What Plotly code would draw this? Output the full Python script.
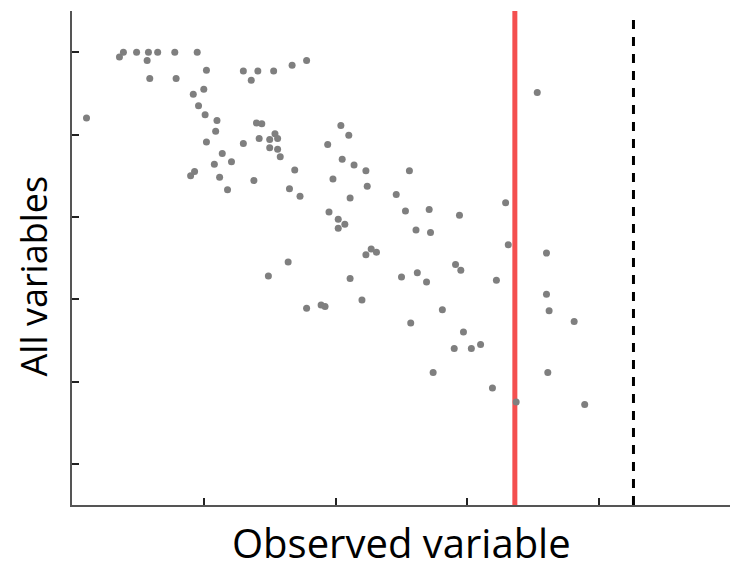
import plotly.graph_objects as go

# Observed variable (x) and All variables (y) values for each point
obs_x = [0.11, 0.39, 0.36, 0.49, 0.58, 0.57, 0.65, 0.78, 0.95, 0.59,
         0.79, 1.02, 1.30, 1.36, 1.41, 1.53, 1.67, 1.78, 1.00, 0.92,
         0.96, 1.01, 1.10, 1.09, 1.02, 1.14, 1.08, 1.21, 0.90, 0.93,
         1.12, 1.18, 1.38, 1.30, 1.40, 1.44, 1.42, 1.54, 1.50, 1.56,
         1.50, 1.56, 1.58, 1.69, 1.65, 1.73, 2.04, 2.10, 1.94, 2.05,
         2.14, 2.23, 2.56, 1.98, 2.24, 2.11, 2.46, 1.95, 2.02, 2.02,
         2.07, 2.53, 2.71, 2.94, 2.61, 2.72, 2.27, 2.23, 2.31, 1.64,
         1.49, 2.11, 2.20, 1.78, 1.89, 1.92, 2.50, 2.62, 2.69, 2.91,
         2.95, 2.81, 3.31, 3.60, 3.22, 3.60, 3.62, 3.81, 2.57, 2.97,
         2.90, 3.03, 3.10, 2.74, 3.61, 3.19, 3.37, 3.89, 3.53, 3.29]

all_y = [4.20, 5.00, 4.94, 5.00, 5.00, 4.90, 5.00, 5.00, 5.00, 4.68,
         4.68, 4.78, 4.77, 4.66, 4.77, 4.77, 4.84, 4.90, 4.55, 4.49,
         4.35, 4.24, 4.17, 4.04, 3.91, 3.77, 3.64, 3.67, 3.50, 3.55,
         3.48, 3.33, 3.44, 3.89, 4.14, 4.13, 3.95, 4.01, 3.94, 3.95,
         3.84, 3.82, 3.73, 3.57, 3.34, 3.25, 4.11, 3.99, 3.88, 3.70,
         3.63, 3.56, 3.56, 3.46, 3.37, 3.23, 3.27, 3.06, 2.97, 2.86,
         2.91, 3.07, 3.09, 3.02, 2.84, 2.81, 2.61, 2.54, 2.57, 2.45,
         2.28, 2.25, 1.99, 1.89, 1.93, 1.91, 2.27, 2.32, 2.21, 2.42,
         2.35, 1.87, 2.66, 2.56, 2.23, 2.06, 1.86, 1.73, 1.71, 1.60,
         1.40, 1.40, 1.45, 1.11, 1.11, 0.92, 0.75, 0.72, 4.51, 3.17]

red_line_x = 3.36
dashed_line_x = 4.26

x_ticks = [0, 1, 2, 3, 4, 5]
y_ticks = [0, 1, 2, 3, 4, 5]
x_range = [0, 5]
y_range = [-0.5, 5.5]

x_title = "Observed variable"
y_title = "All variables"

fig = go.Figure()
fig.add_trace(go.Scatter(
    x=obs_x, y=all_y, mode="markers",
    marker=dict(color="#7f7f7f", size=7, line=dict(width=0)),
    showlegend=False, hoverinfo="skip",
))

fig.add_shape(type="line", xref="x", yref="paper", x0=red_line_x, x1=red_line_x,
              y0=0, y1=1, line=dict(color="#f44f4f", width=5), layer="below")
fig.add_shape(type="line", xref="x", yref="paper", x0=dashed_line_x, x1=dashed_line_x,
              y0=0, y1=0.995, line=dict(color="black", width=3, dash="9px,8px"), layer="below")

axis_common = dict(
    showgrid=False, zeroline=False, showticklabels=False,
    showline=True, linecolor="#555555", linewidth=1.5,
    ticks="inside", ticklen=7, tickwidth=1.5, tickcolor="#222222",
)
fig.update_xaxes(range=x_range, tickvals=x_ticks, **axis_common)
fig.update_yaxes(range=y_range, tickvals=y_ticks, **axis_common)

fig.add_annotation(text=x_title, xref="paper", yref="paper", x=0.5, y=-0.075,
                   xanchor="center", yanchor="middle", showarrow=False,
                   font=dict(family="Open Sans", size=40, color="black"))
fig.add_annotation(text=y_title, xref="paper", yref="paper", x=-0.059, y=0.463,
                   xanchor="center", yanchor="middle", showarrow=False, textangle=-90,
                   font=dict(family="Open Sans", size=36, color="black"))

# page body has an 8px default margin, so the figure is sized to fit the 738x563 window
fig.update_layout(
    width=730, height=555,
    margin=dict(l=64, r=7, t=3, b=58),
    paper_bgcolor="white", plot_bgcolor="white",
    font=dict(family="Open Sans"),
)

fig.write_html("out.html")
